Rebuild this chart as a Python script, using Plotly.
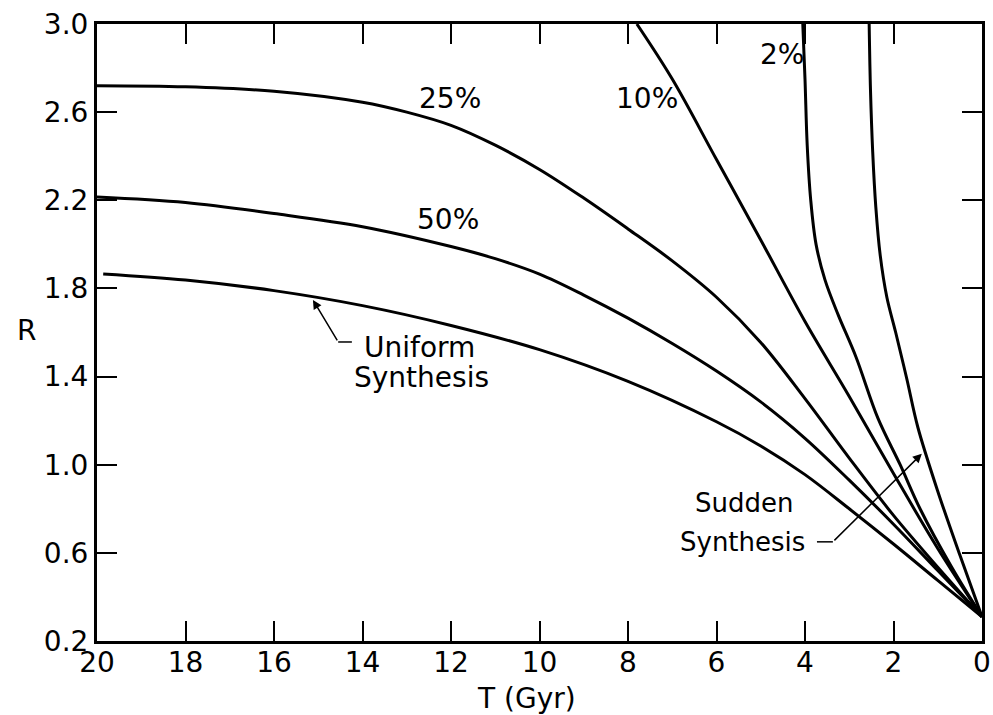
import plotly.graph_objects as go

# ---- data (T in Gyr, R) ----
t_uniform = [19.86, 18, 16, 14, 12, 10, 8, 6, 5, 4, 3, 2, 1, 0]
r_uniform = [1.866, 1.838, 1.790, 1.722, 1.632, 1.522, 1.378, 1.195, 1.085, 0.955, 0.80, 0.64, 0.475, 0.31]

t_50 = [20, 18, 16, 14, 12, 11, 10, 9, 8, 7, 6, 5, 4, 3, 2, 1, 0]
r_50 = [2.215, 2.19, 2.14, 2.08, 1.99, 1.935, 1.865, 1.77, 1.665, 1.55, 1.425, 1.285, 1.12, 0.93, 0.73, 0.52, 0.31]

t_25 = [20, 18, 16, 14, 13, 12, 11, 10, 9, 8, 7, 6, 5, 4, 3, 2, 1, 0]
r_25 = [2.72, 2.715, 2.695, 2.645, 2.60, 2.54, 2.45, 2.34, 2.21, 2.07, 1.925, 1.76, 1.555, 1.30, 1.03, 0.77, 0.535, 0.31]

t_10 = [7.80, 7, 6, 5, 4, 3, 2, 1, 0]
r_10 = [3.0, 2.75, 2.385, 2.02, 1.65, 1.31, 0.96, 0.62, 0.31]

t_2 = [4.05, 4.0, 3.95, 3.87, 3.75, 3.55, 3.25, 2.85, 2.35, 1.85, 1.4, 0.7, 0]
r_2 = [3.0, 2.75, 2.45, 2.2, 2.0, 1.84, 1.68, 1.49, 1.21, 1.0, 0.80, 0.54, 0.31]

t_sudden = [2.55, 2.52, 2.47, 2.40, 2.30, 2.15, 1.95, 1.70, 1.45, 1.0, 0.5, 0]
r_sudden = [3.0, 2.70, 2.42, 2.17, 1.95, 1.76, 1.60, 1.39, 1.17, 0.88, 0.59, 0.31]

x_ticks = [20, 18, 16, 14, 12, 10, 8, 6, 4, 2, 0]
y_ticks = [0.2, 0.6, 1.0, 1.4, 1.8, 2.2, 2.6, 3.0]
y_tick_text = ["0.2", "0.6", "1.0", "1.4", "1.8", "2.2", "2.6", "3.0"]

series = [
    ("Uniform Synthesis", t_uniform, r_uniform),
    ("50%", t_50, r_50),
    ("25%", t_25, r_25),
    ("10%", t_10, r_10),
    ("2%", t_2, r_2),
    ("Sudden Synthesis", t_sudden, r_sudden),
]

FONT = "DejaVu Sans"

fig = go.Figure()
for name, tx, ry in series:
    fig.add_trace(go.Scatter(
        x=tx, y=ry, name=name, mode="lines",
        line=dict(color="black", width=3, shape="spline", smoothing=1.0),
        showlegend=False, hoverinfo="x+y+name",
    ))

ann = []
# curve labels
for txt, tx, ry in [("25%", 12.02, 2.66), ("50%", 12.07, 2.115), ("10%", 7.57, 2.66), ("2%", 4.52, 2.86)]:
    ann.append(dict(x=tx, y=ry, xref="x", yref="y", text=txt, showarrow=False,
                    font=dict(family=FONT, size=28, color="black")))
# Uniform Synthesis label
ann.append(dict(x=14.01, y=1.53, xref="x", yref="y", text="Uniform", showarrow=False,
                xanchor="left", font=dict(family=FONT, size=28, color="black")))
ann.append(dict(x=14.24, y=1.394, xref="x", yref="y", text="Synthesis", showarrow=False,
                xanchor="left", font=dict(family=FONT, size=28, color="black")))
# Sudden Synthesis label
ann.append(dict(x=6.53, y=0.827, xref="x", yref="y", text="Sudden", showarrow=False,
                xanchor="left", font=dict(family=FONT, size=26, color="black")))
ann.append(dict(x=3.95, y=0.65, xref="x", yref="y", text="Synthesis", showarrow=False,
                xanchor="right", font=dict(family=FONT, size=26, color="black")))
# arrows
ann.append(dict(x=15.12, y=1.748, ax=14.55, ay=1.557, xref="x", yref="y", axref="x", ayref="y",
                text="", showarrow=True, arrowhead=2, arrowsize=1.2, arrowwidth=1.5, arrowcolor="black"))
ann.append(dict(x=1.36, y=1.05, ax=3.37, ay=0.65, xref="x", yref="y", axref="x", ayref="y",
                text="", showarrow=True, arrowhead=2, arrowsize=1.2, arrowwidth=1.5, arrowcolor="black"))
# axis titles
ann.append(dict(x=-0.093, y=0.504, xref="paper", yref="paper", text="R", showarrow=False,
                font=dict(family=FONT, size=28, color="black")))
ann.append(dict(x=0.485, y=-0.0925, xref="paper", yref="paper", text="T (Gyr)", showarrow=False,
                yanchor="middle", font=dict(family=FONT, size=28, color="black")))

shapes = [
    dict(type="line", xref="x", yref="y", x0=14.55, y0=1.557, x1=14.24, y1=1.557,
         line=dict(color="black", width=1.5)),
    dict(type="line", xref="x", yref="y", x0=3.73, y0=0.65, x1=3.37, y1=0.65,
         line=dict(color="black", width=1.5)),
]

fig.update_layout(
    width=993, height=715,
    margin=dict(l=97, r=11, t=24, b=74),
    paper_bgcolor="white", plot_bgcolor="white",
    font=dict(family=FONT, size=28, color="black"),
    annotations=ann, shapes=shapes,
    xaxis=dict(
        range=[20, 0], tickvals=x_ticks, ticktext=[str(v) for v in x_ticks],
        ticks="inside", ticklen=20, tickwidth=2, tickcolor="black",
        showline=True, linecolor="black", linewidth=3, mirror="ticks",
        showgrid=False, zeroline=False, automargin=False,
        ticklabelstandoff=-6,
        tickfont=dict(family=FONT, size=28, color="black"),
    ),
    yaxis=dict(
        range=[0.2, 3.0], tickvals=y_ticks, ticktext=y_tick_text,
        ticks="inside", ticklen=20, tickwidth=2, tickcolor="black",
        showline=True, linecolor="black", linewidth=3, mirror="ticks",
        showgrid=False, zeroline=False, automargin=False,
        tickfont=dict(family=FONT, size=28, color="black"),
    ),
)

fig.write_html(
    "out.html",
    config={"displayModeBar": False},
    post_script="document.body.style.margin='0';document.body.style.overflow='hidden';",
)
